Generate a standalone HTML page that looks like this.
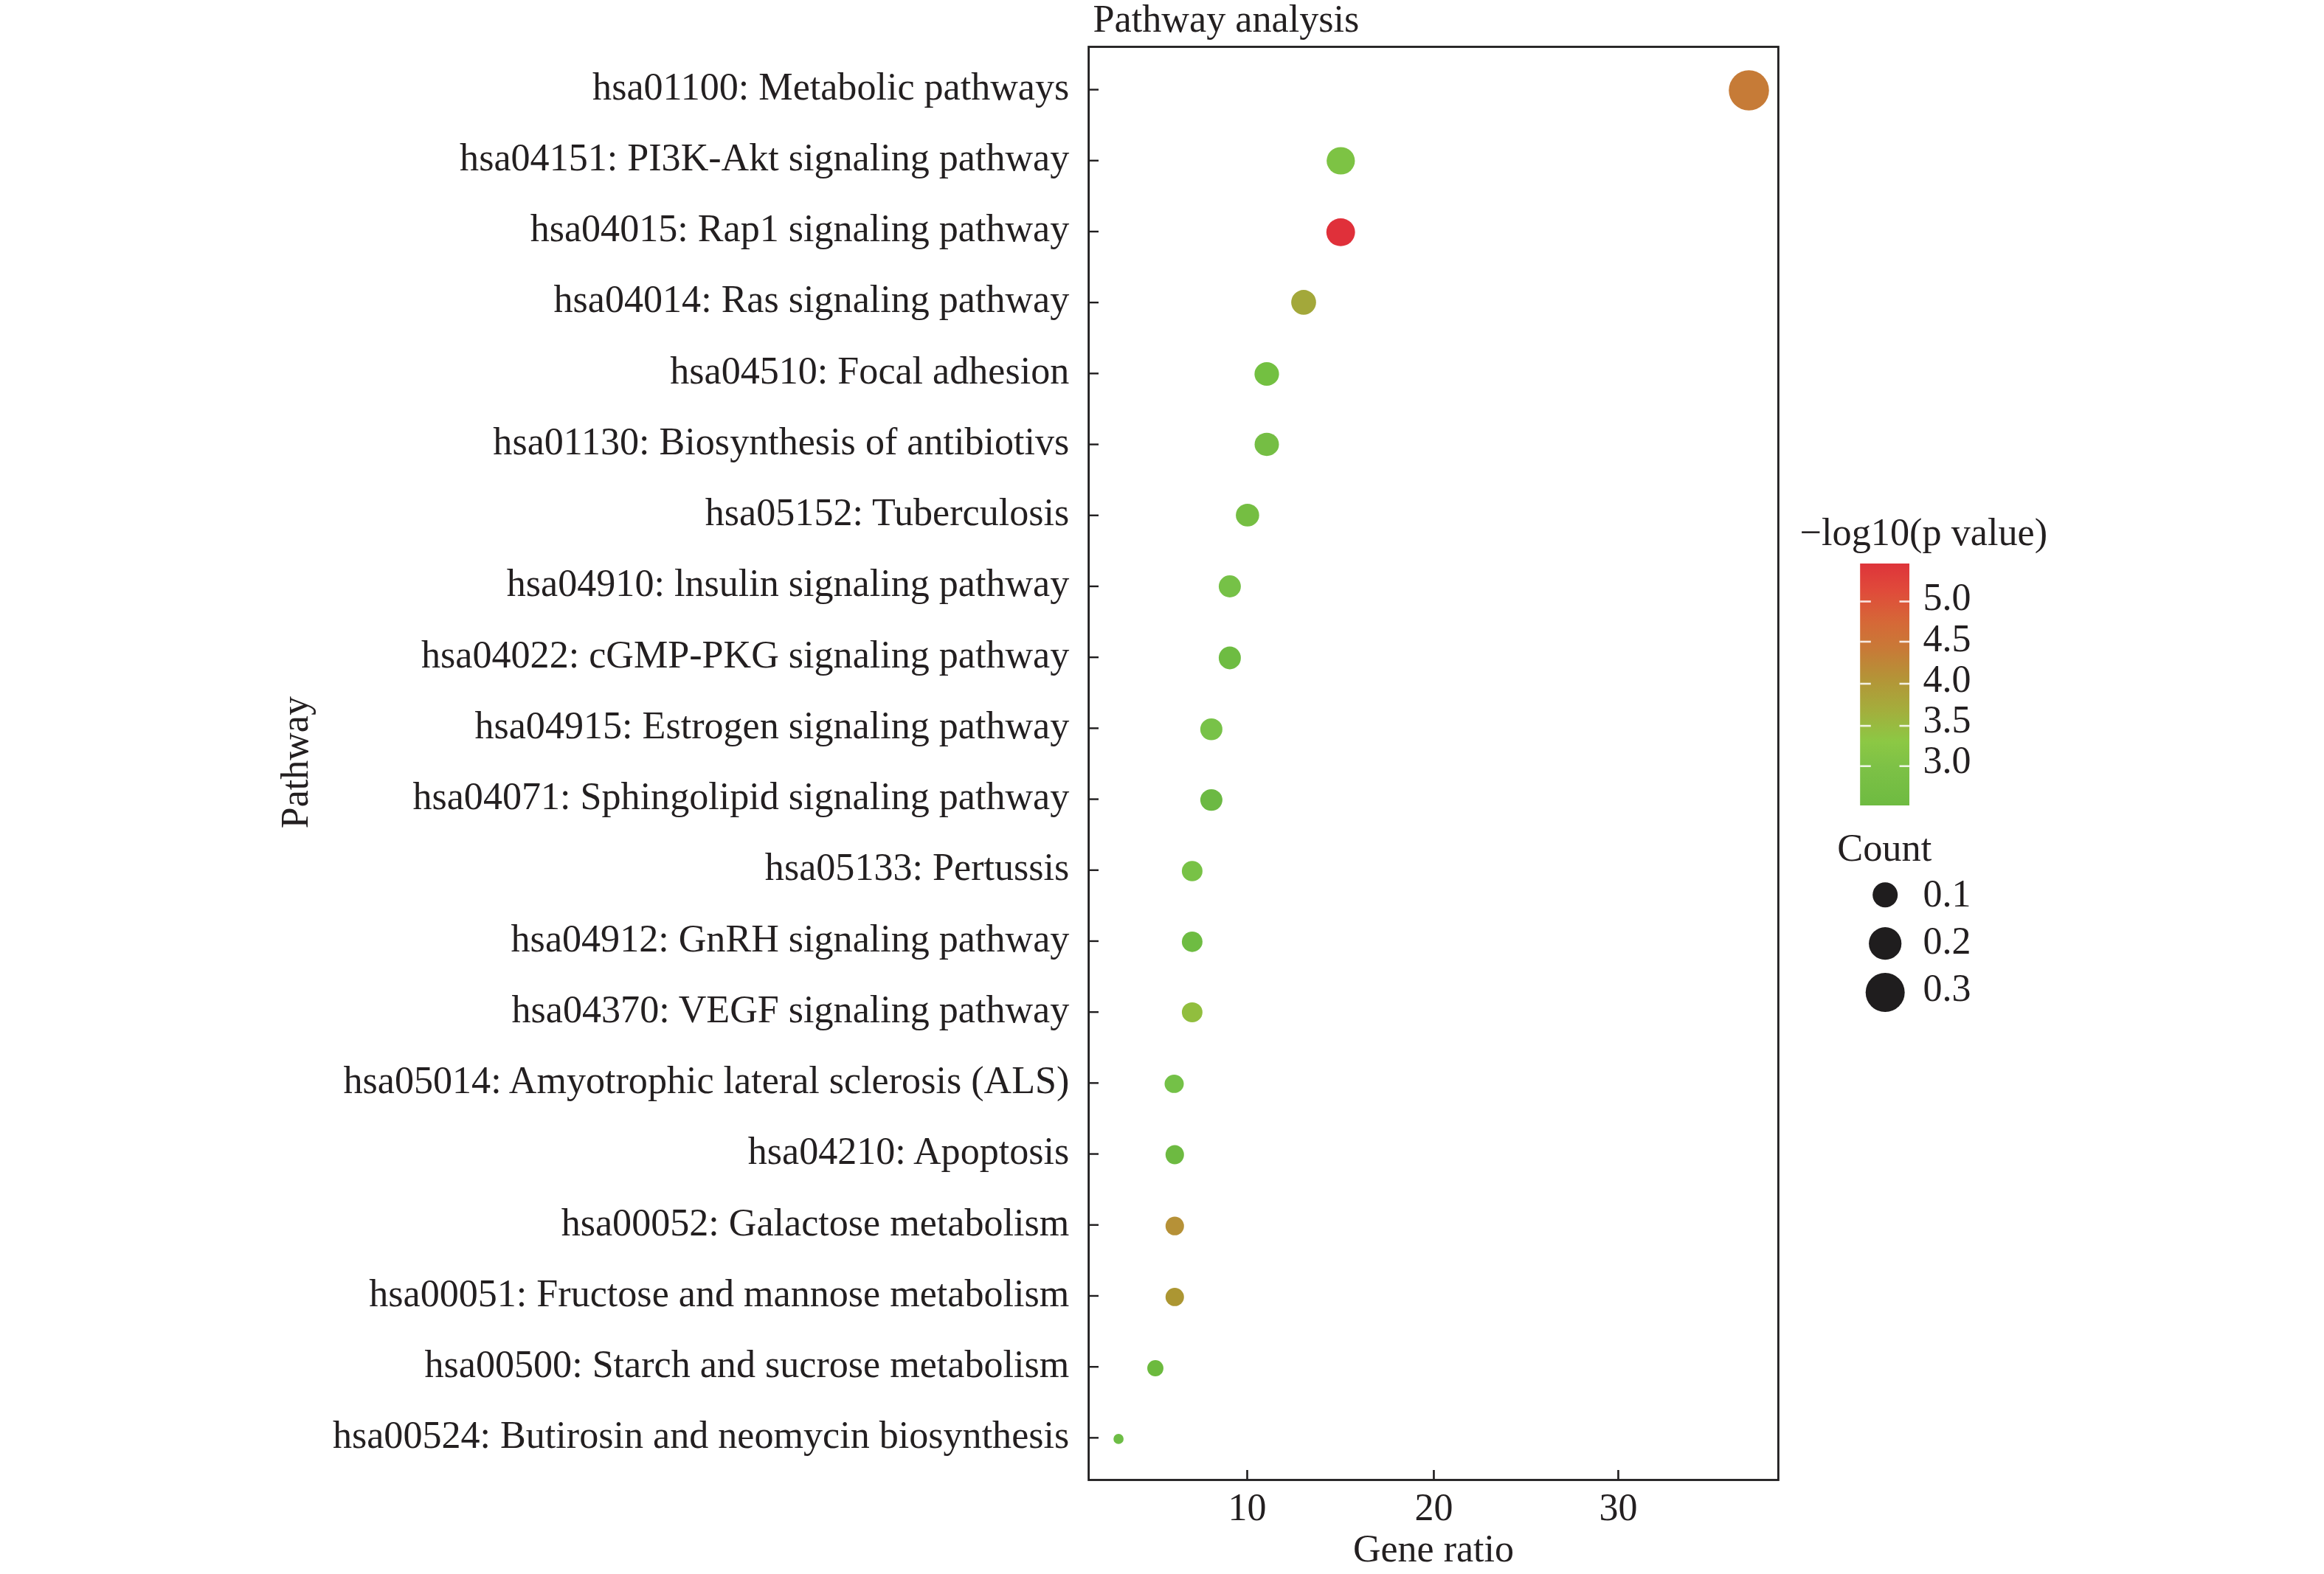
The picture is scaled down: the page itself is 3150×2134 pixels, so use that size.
<!DOCTYPE html><html><head><meta charset="utf-8"><style>html,body{margin:0;padding:0;background:#fff;overflow:hidden}svg{display:block}text{font-family:"Liberation Serif",serif;fill:#231F20}</style></head><body>
<svg width="3150" height="2134" viewBox="0 0 3150 2134">
<rect x="0" y="0" width="3150" height="2134" fill="#fff"/>
<defs><linearGradient id="cb" x1="0" y1="0" x2="0" y2="1">
<stop offset="0.0000" stop-color="#DE343A"/>
<stop offset="0.1098" stop-color="#E04A3A"/>
<stop offset="0.2470" stop-color="#D56937"/>
<stop offset="0.3537" stop-color="#C87A37"/>
<stop offset="0.4756" stop-color="#B49437"/>
<stop offset="0.5976" stop-color="#A5AC3C"/>
<stop offset="0.7348" stop-color="#8CC844"/>
<stop offset="0.8415" stop-color="#7DC146"/>
<stop offset="1.0000" stop-color="#6EBB41"/>
</linearGradient></defs>
<text x="1481.5" y="43" font-size="52.2">Pathway analysis</text>
<rect x="1475.6" y="63.5" width="934.8" height="1943" fill="none" stroke="#1F1D1E" stroke-width="2.8"/>
<line x1="1477" y1="121.55" x2="1489" y2="121.55" stroke="#1F1D1E" stroke-width="2.4"/>
<text x="1449.3" y="134.50" font-size="52.1" text-anchor="end">hsa01100: Metabolic pathways</text>
<line x1="1477" y1="217.75" x2="1489" y2="217.75" stroke="#1F1D1E" stroke-width="2.4"/>
<text x="1449.3" y="230.75" font-size="52.1" text-anchor="end">hsa04151: PI3K-Akt signaling pathway</text>
<line x1="1477" y1="313.95" x2="1489" y2="313.95" stroke="#1F1D1E" stroke-width="2.4"/>
<text x="1449.3" y="327.00" font-size="52.1" text-anchor="end">hsa04015: Rap1 signaling pathway</text>
<line x1="1477" y1="410.15" x2="1489" y2="410.15" stroke="#1F1D1E" stroke-width="2.4"/>
<text x="1449.3" y="423.25" font-size="52.1" text-anchor="end">hsa04014: Ras signaling pathway</text>
<line x1="1477" y1="506.35" x2="1489" y2="506.35" stroke="#1F1D1E" stroke-width="2.4"/>
<text x="1449.3" y="519.50" font-size="52.1" text-anchor="end">hsa04510: Focal adhesion</text>
<line x1="1477" y1="602.55" x2="1489" y2="602.55" stroke="#1F1D1E" stroke-width="2.4"/>
<text x="1449.3" y="615.75" font-size="52.1" text-anchor="end">hsa01130: Biosynthesis of antibiotivs</text>
<line x1="1477" y1="698.75" x2="1489" y2="698.75" stroke="#1F1D1E" stroke-width="2.4"/>
<text x="1449.3" y="712.00" font-size="52.1" text-anchor="end">hsa05152: Tuberculosis</text>
<line x1="1477" y1="794.95" x2="1489" y2="794.95" stroke="#1F1D1E" stroke-width="2.4"/>
<text x="1449.3" y="808.25" font-size="52.1" text-anchor="end">hsa04910: lnsulin signaling pathway</text>
<line x1="1477" y1="891.15" x2="1489" y2="891.15" stroke="#1F1D1E" stroke-width="2.4"/>
<text x="1449.3" y="904.50" font-size="52.1" text-anchor="end">hsa04022: cGMP-PKG signaling pathway</text>
<line x1="1477" y1="987.35" x2="1489" y2="987.35" stroke="#1F1D1E" stroke-width="2.4"/>
<text x="1449.3" y="1000.75" font-size="52.1" text-anchor="end">hsa04915: Estrogen signaling pathway</text>
<line x1="1477" y1="1083.55" x2="1489" y2="1083.55" stroke="#1F1D1E" stroke-width="2.4"/>
<text x="1449.3" y="1097.00" font-size="52.1" text-anchor="end">hsa04071: Sphingolipid signaling pathway</text>
<line x1="1477" y1="1179.75" x2="1489" y2="1179.75" stroke="#1F1D1E" stroke-width="2.4"/>
<text x="1449.3" y="1193.25" font-size="52.1" text-anchor="end">hsa05133: Pertussis</text>
<line x1="1477" y1="1275.95" x2="1489" y2="1275.95" stroke="#1F1D1E" stroke-width="2.4"/>
<text x="1449.3" y="1289.50" font-size="52.1" text-anchor="end">hsa04912: GnRH signaling pathway</text>
<line x1="1477" y1="1372.15" x2="1489" y2="1372.15" stroke="#1F1D1E" stroke-width="2.4"/>
<text x="1449.3" y="1385.75" font-size="52.1" text-anchor="end">hsa04370: VEGF signaling pathway</text>
<line x1="1477" y1="1468.35" x2="1489" y2="1468.35" stroke="#1F1D1E" stroke-width="2.4"/>
<text x="1449.3" y="1482.00" font-size="52.1" text-anchor="end">hsa05014: Amyotrophic lateral sclerosis (ALS)</text>
<line x1="1477" y1="1564.55" x2="1489" y2="1564.55" stroke="#1F1D1E" stroke-width="2.4"/>
<text x="1449.3" y="1578.25" font-size="52.1" text-anchor="end">hsa04210: Apoptosis</text>
<line x1="1477" y1="1660.75" x2="1489" y2="1660.75" stroke="#1F1D1E" stroke-width="2.4"/>
<text x="1449.3" y="1674.50" font-size="52.1" text-anchor="end">hsa00052: Galactose metabolism</text>
<line x1="1477" y1="1756.95" x2="1489" y2="1756.95" stroke="#1F1D1E" stroke-width="2.4"/>
<text x="1449.3" y="1770.75" font-size="52.1" text-anchor="end">hsa00051: Fructose and mannose metabolism</text>
<line x1="1477" y1="1853.15" x2="1489" y2="1853.15" stroke="#1F1D1E" stroke-width="2.4"/>
<text x="1449.3" y="1867.00" font-size="52.1" text-anchor="end">hsa00500: Starch and sucrose metabolism</text>
<line x1="1477" y1="1949.35" x2="1489" y2="1949.35" stroke="#1F1D1E" stroke-width="2.4"/>
<text x="1449.3" y="1963.25" font-size="52.1" text-anchor="end">hsa00524: Butirosin and neomycin biosynthesis</text>
<line x1="1690.50" y1="1993" x2="1690.50" y2="2005.5" stroke="#1F1D1E" stroke-width="2.6"/>
<text x="1690.50" y="2061" font-size="52" text-anchor="middle">10</text>
<line x1="1943.45" y1="1993" x2="1943.45" y2="2005.5" stroke="#1F1D1E" stroke-width="2.6"/>
<text x="1943.45" y="2061" font-size="52" text-anchor="middle">20</text>
<line x1="2193.45" y1="1993" x2="2193.45" y2="2005.5" stroke="#1F1D1E" stroke-width="2.6"/>
<text x="2193.45" y="2061" font-size="52" text-anchor="middle">30</text>
<text x="1943" y="2116.5" font-size="52" text-anchor="middle">Gene ratio</text>
<text transform="translate(417,1033.6) rotate(-90)" x="0" y="0" font-size="52" text-anchor="middle">Pathway</text>
<ellipse cx="2370.50" cy="122.50" rx="27.25" ry="27.35" fill="#C67B37"/>
<ellipse cx="1817.30" cy="218.00" rx="19.15" ry="18.60" fill="#7DC344"/>
<ellipse cx="1817.20" cy="314.80" rx="19.45" ry="18.85" fill="#E0303A"/>
<ellipse cx="1767.00" cy="409.90" rx="16.85" ry="16.80" fill="#A3A83A"/>
<ellipse cx="1717.00" cy="507.00" rx="16.60" ry="16.05" fill="#73C041"/>
<ellipse cx="1717.00" cy="602.40" rx="16.50" ry="15.75" fill="#75BE44"/>
<ellipse cx="1690.90" cy="698.40" rx="15.80" ry="15.40" fill="#75BE42"/>
<ellipse cx="1666.90" cy="795.00" rx="15.00" ry="15.00" fill="#76C147"/>
<ellipse cx="1666.90" cy="891.90" rx="15.00" ry="15.50" fill="#6EBC42"/>
<ellipse cx="1641.90" cy="988.70" rx="15.00" ry="14.80" fill="#78C248"/>
<ellipse cx="1641.90" cy="1084.60" rx="15.00" ry="14.70" fill="#6CB943"/>
<ellipse cx="1615.90" cy="1181.00" rx="14.00" ry="13.85" fill="#78C246"/>
<ellipse cx="1615.90" cy="1276.80" rx="14.00" ry="13.85" fill="#6EBC42"/>
<ellipse cx="1615.90" cy="1372.40" rx="13.95" ry="13.50" fill="#91BE3E"/>
<ellipse cx="1591.50" cy="1469.40" rx="13.00" ry="12.40" fill="#74C147"/>
<ellipse cx="1592.30" cy="1565.50" rx="12.50" ry="13.00" fill="#6DBA41"/>
<ellipse cx="1592.30" cy="1662.20" rx="12.50" ry="12.65" fill="#B69137"/>
<ellipse cx="1592.30" cy="1758.40" rx="12.50" ry="12.40" fill="#AC9632"/>
<ellipse cx="1566.00" cy="1855.00" rx="10.95" ry="11.10" fill="#6CBA3E"/>
<ellipse cx="1516.10" cy="1950.90" rx="6.85" ry="6.90" fill="#6DBD45"/>
<text x="2439.6" y="739.3" font-size="52.25">−log10(p value)</text>
<rect x="2521.2" y="764" width="66.8" height="328" fill="url(#cb)"/>
<line x1="2521.2" y1="815.50" x2="2535.8" y2="815.50" stroke="#fff" stroke-opacity="0.85" stroke-width="2.6"/>
<line x1="2574.5" y1="815.50" x2="2588" y2="815.50" stroke="#fff" stroke-opacity="0.85" stroke-width="2.6"/>
<text x="2606.4" y="827.20" font-size="52">5.0</text>
<line x1="2521.2" y1="870.00" x2="2535.8" y2="870.00" stroke="#fff" stroke-opacity="0.85" stroke-width="2.6"/>
<line x1="2574.5" y1="870.00" x2="2588" y2="870.00" stroke="#fff" stroke-opacity="0.85" stroke-width="2.6"/>
<text x="2606.4" y="882.70" font-size="52">4.5</text>
<line x1="2521.2" y1="927.00" x2="2535.8" y2="927.00" stroke="#fff" stroke-opacity="0.85" stroke-width="2.6"/>
<line x1="2574.5" y1="927.00" x2="2588" y2="927.00" stroke="#fff" stroke-opacity="0.85" stroke-width="2.6"/>
<text x="2606.4" y="937.80" font-size="52">4.0</text>
<line x1="2521.2" y1="984.10" x2="2535.8" y2="984.10" stroke="#fff" stroke-opacity="0.85" stroke-width="2.6"/>
<line x1="2574.5" y1="984.10" x2="2588" y2="984.10" stroke="#fff" stroke-opacity="0.85" stroke-width="2.6"/>
<text x="2606.4" y="993.00" font-size="52">3.5</text>
<line x1="2521.2" y1="1038.70" x2="2535.8" y2="1038.70" stroke="#fff" stroke-opacity="0.85" stroke-width="2.6"/>
<line x1="2574.5" y1="1038.70" x2="2588" y2="1038.70" stroke="#fff" stroke-opacity="0.85" stroke-width="2.6"/>
<text x="2606.4" y="1048.20" font-size="52">3.0</text>
<text x="2490.2" y="1167.3" font-size="52.4">Count</text>
<circle cx="2555.2" cy="1213.20" r="17.00" fill="#1F1D1E"/>
<text x="2606.6" y="1228.90" font-size="52">0.1</text>
<circle cx="2555.2" cy="1279.20" r="22.10" fill="#1F1D1E"/>
<text x="2606.6" y="1292.70" font-size="52">0.2</text>
<circle cx="2555.2" cy="1345.60" r="26.50" fill="#1F1D1E"/>
<text x="2606.6" y="1356.80" font-size="52">0.3</text>
</svg></body></html>
